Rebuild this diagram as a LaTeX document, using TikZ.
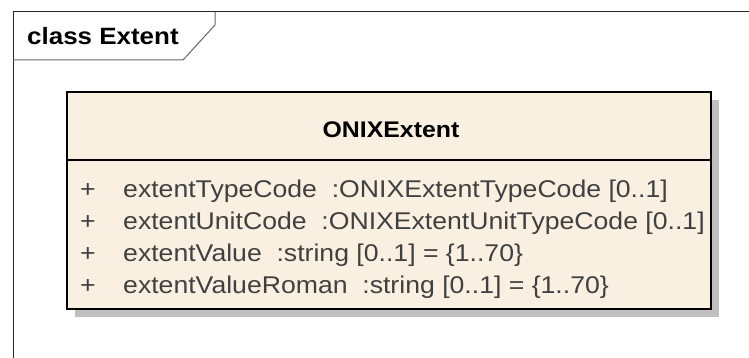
\documentclass[tikz,border=0pt]{standalone}
\usepackage{fontspec}
\setmainfont{Liberation Sans}[FakeStretch=1.1]
\usepackage{xcolor}
\usetikzlibrary{positioning}

\definecolor{classfill}{RGB}{250,240,226}
\definecolor{shadowgray}{RGB}{192,192,192}
\definecolor{attrgray}{RGB}{64,64,64}

\begin{document}
\begin{tikzpicture}[x=1pt, y=1pt,
    frame_line/.style={draw=black!85, line width=1pt},
    tab_line/.style={draw=black!60, line width=1pt},
    class_box/.style={draw=black, line width=2.4pt, fill=classfill},
    attr/.style={anchor=base west, inner sep=0pt, text=attrgray, font=\fontsize{24.2}{28}\selectfont},
    vis/.style={anchor=base, inner sep=0pt, text=attrgray, font=\fontsize{24.2}{28}\selectfont}
]
    \useasboundingbox (0,0) rectangle (749,-358);

    % Diagram frame with its tab
    \draw [frame_line] (749,-12) -- (13,-12) -- (13,-358);
    \draw [tab_line] (215,-12) -- (215,-25) -- (183,-60) -- (13,-60);
    \node (frame_title) [anchor=base west, inner sep=0pt, font=\fontsize{23.6}{28}\selectfont\bfseries] at (27,-45) {class Extent};

    % Class ONIXExtent
    \fill [shadowgray] (75,-100) rectangle (719,-317);
    \draw [class_box] (67,-92) rectangle (711,-309);
    \draw [class_box] (67,-160) -- (711,-160);
    \node (class_name) [anchor=base, inner sep=0pt, font=\fontsize{22.6}{28}\selectfont\bfseries] at (391,-138) {ONIXExtent};

    % Attributes
    \node (vis1) [vis] at (88,-197) {+};
    \node (vis2) [vis] at (88,-229) {+};
    \node (vis3) [vis] at (88,-261) {+};
    \node (vis4) [vis] at (88,-293) {+};
    \node (attr1) [attr] at (123,-197) {extentTypeCode\ \ :ONIXExtentTypeCode [0..1]};
    \node (attr2) [attr] at (123,-229) {extentUnitCode\ \ :ONIXExtentUnitTypeCode [0..1]};
    \node (attr3) [attr] at (123,-261) {extentValue\ \ :string [0..1] = \{1..70\}};
    \node (attr4) [attr] at (123,-293) {extentValueRoman\ \ :string [0..1] = \{1..70\}};
\end{tikzpicture}
\end{document}
